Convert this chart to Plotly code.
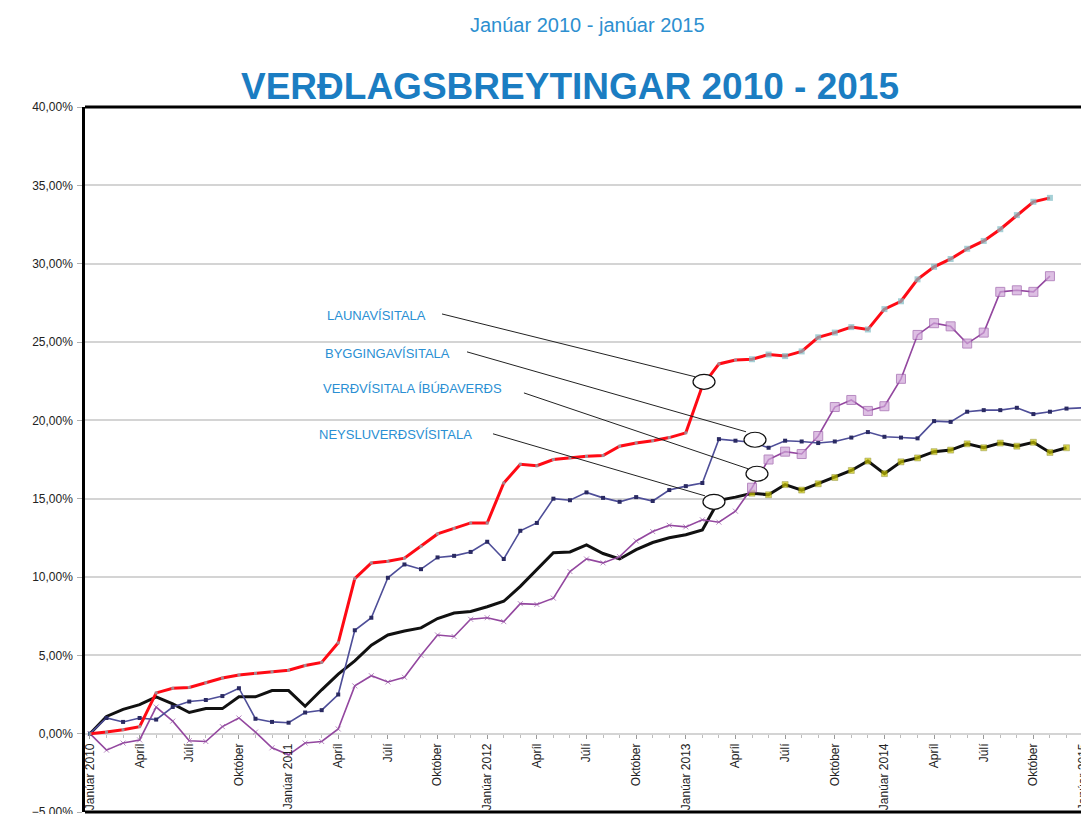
import plotly.graph_objects as go

# ---- data (percent change since January 2010) ----
months = list(range(61))  # 0 = Janúar 2010 ... 60 = Janúar 2015
tick_months = list(range(0, 61, 3))
tick_labels = ["Janúar 2010", "Apríl", "Júlí", "Október",
               "Janúar 2011", "Apríl", "Júlí", "Október",
               "Janúar 2012", "Apríl", "Júlí", "Október",
               "Janúar 2013", "Apríl", "Júlí", "Október",
               "Janúar 2014", "Apríl", "Júlí", "Október",
               "Janúar 2015"]

launavisitala = [0.0, 0.1, 0.25, 0.45, 2.6, 2.9, 2.95, 3.25, 3.55, 3.75,
                 3.85, 3.95, 4.05, 4.35, 4.55, 5.8, 9.9, 10.9, 11.0, 11.2,
                 11.95, 12.75, 13.1, 13.45, 13.45, 16.0, 17.2, 17.1, 17.5, 17.6,
                 17.7, 17.75, 18.35, 18.55, 18.7, 18.9, 19.2, 22.2, 23.6, 23.85,
                 23.9, 24.2, 24.1, 24.4, 25.3, 25.6, 25.95, 25.8, 27.1, 27.6,
                 29.0, 29.8, 30.3, 30.95, 31.45, 32.2, 33.1, 33.95, 34.2]

byggingavisitala = [0.0, 1.0, 0.75, 1.0, 0.9, 1.7, 2.05, 2.15, 2.4, 2.9,
                    0.95, 0.75, 0.7, 1.35, 1.5, 2.5, 6.6, 7.4, 9.95, 10.8,
                    10.5, 11.25, 11.35, 11.6, 12.25, 11.15, 12.95, 13.45, 15.0, 14.9,
                    15.4, 15.05, 14.8, 15.1, 14.85, 15.55, 15.8, 16.0, 18.8, 18.7,
                    18.6, 18.25, 18.7, 18.65, 18.55, 18.65, 18.9, 19.25, 18.95, 18.9,
                    18.85, 19.95, 19.9, 20.55, 20.65, 20.65, 20.8, 20.4, 20.55, 20.75,
                    20.8]

ibudaverd = [0.0, -1.05, -0.6, -0.4, 1.7, 0.8, -0.45, -0.5, 0.45, 1.0,
             0.1, -0.9, -1.35, -0.6, -0.5, 0.3, 3.05, 3.7, 3.3, 3.6,
             5.0, 6.3, 6.2, 7.3, 7.4, 7.15, 8.3, 8.25, 8.65, 10.35,
             11.15, 10.9, 11.3, 12.3, 12.9, 13.3, 13.2, 13.65, 13.5, 14.2,
             15.7, 17.5, 18.0, 17.85, 19.0, 20.85, 21.3, 20.6, 20.9, 22.65,
             25.45, 26.2, 26.0, 24.9, 25.6, 28.2, 28.3, 28.2, 29.2]

neysluverd = [0.0, 1.1, 1.55, 1.85, 2.35, 1.9, 1.35, 1.6, 1.6, 2.35,
              2.35, 2.75, 2.75, 1.75, 2.8, 3.8, 4.65, 5.65, 6.3, 6.55,
              6.75, 7.35, 7.7, 7.8, 8.1, 8.45, 9.4, 10.5, 11.55, 11.6,
              12.05, 11.5, 11.15, 11.75, 12.2, 12.5, 12.7, 13.0, 14.9, 15.1,
              15.35, 15.25, 15.9, 15.55, 15.95, 16.35, 16.8, 17.4, 16.6, 17.35,
              17.6, 18.0, 18.1, 18.5, 18.25, 18.55, 18.35, 18.6, 17.95, 18.25]

series_names = ["LAUNAVÍSITALA", "BYGGINGAVÍSITALA",
                "VERÐVÍSITALA ÍBÚÐAVERÐS", "NEYSLUVERÐSVÍSITALA"]

FONT = "Liberation Sans, Arial, sans-serif"
SPLIT = 40  # markers are more prominent in the later part of the source chart

# the page body has an 8px default margin; size the figure to fit the window
PAGE_MARGIN = 8
FIG_W, FIG_H = 1089 - PAGE_MARGIN, 814 - PAGE_MARGIN


def sizes(n, early, late):
    return [early if i < SPLIT else late for i in range(n)]


fig = go.Figure()

# Neysluverðsvísitala (black)
fig.add_trace(go.Scatter(
    x=months[:len(neysluverd)], y=neysluverd, name=series_names[3],
    mode="lines+markers",
    line=dict(color="#111111", width=3),
    marker=dict(symbol="square", size=sizes(len(neysluverd), 0, 6),
                color="#c8c400", line=dict(color="#6e6e10", width=0.5)),
))

# Verðvísitala íbúðaverðs (purple)
fig.add_trace(go.Scatter(
    x=months[:len(ibudaverd)], y=ibudaverd, name=series_names[2],
    mode="lines+markers",
    line=dict(color="#93479f", width=1.6),
    marker=dict(symbol=["x-thin" if i < SPLIT else "square" for i in range(len(ibudaverd))],
                size=sizes(len(ibudaverd), 5, 9),
                color="#cfa4d8", line=dict(color="#9a5aa8", width=1)),
))

# Byggingavísitala (slate blue)
fig.add_trace(go.Scatter(
    x=months[:len(byggingavisitala)], y=byggingavisitala, name=series_names[1],
    mode="lines+markers",
    line=dict(color="#4e4e98", width=1.6),
    marker=dict(symbol="square", size=4, color="#2a2a62"),
))

# Launavísitala (red)
fig.add_trace(go.Scatter(
    x=months[:len(launavisitala)], y=launavisitala, name=series_names[0],
    mode="lines+markers",
    line=dict(color="#ff0a14", width=3),
    marker=dict(symbol="square", size=sizes(len(launavisitala), 3, 6),
                color="#7fbcc4", line=dict(width=0)),
))

# ---- callouts: label text, leader line, ellipse ----
labels = [
    # text, text pos (x, y), line start, line end, ellipse centre
    (series_names[0], (14.2, 26.67), (21.27, 26.79), (36.56, 22.78), (37.1, 22.46)),
    (series_names[1], (14.08, 24.24), (22.78, 24.37), (39.64, 19.27), (40.18, 18.76)),
    (series_names[2], (13.96, 22.01), (26.22, 21.75), (39.76, 16.91), (40.3, 16.59)),
    (series_names[3], (13.72, 19.07), (24.35, 19.14), (37.16, 15.18), (37.7, 14.8)),
]
shapes = []
annotations = []
for text, tpos, l0, l1, c in labels:
    annotations.append(dict(x=tpos[0], y=tpos[1], xref="x", yref="y", text=text,
                            showarrow=False, xanchor="left", yanchor="middle",
                            font=dict(family=FONT, size=13, color="#2a8fd3")))
    shapes.append(dict(type="line", xref="x", yref="y", x0=l0[0], y0=l0[1],
                       x1=l1[0], y1=l1[1], line=dict(color="#222222", width=1)))
    shapes.append(dict(type="circle", xref="x", yref="y",
                       xsizemode="pixel", ysizemode="pixel",
                       xanchor=c[0], yanchor=c[1],
                       x0=-11, x1=11, y0=-7.5, y1=7.5,
                       fillcolor="white", line=dict(color="#111111", width=1.2)))

# frame lines at top and bottom of plot area
shapes.append(dict(type="line", xref="paper", yref="paper", x0=0, x1=1, y0=1, y1=1,
                   line=dict(color="black", width=3)))
shapes.append(dict(type="line", xref="paper", yref="paper", x0=0, x1=1, y0=0, y1=0,
                   line=dict(color="black", width=3)))

annotations.append(dict(text="Janúar 2010 - janúar 2015", xref="paper", yref="paper",
                        x=(587 - 85) / 1004, y=(812 - 25) / 705,
                        xanchor="center", yanchor="middle", showarrow=False,
                        font=dict(family=FONT, size=20, color="#2d8fd0")))
annotations.append(dict(text="<b>VERÐLAGSBREYTINGAR 2010 - 2015</b>", xref="paper", yref="paper",
                        x=(570 - 85) / 1004, y=(812 - 86) / 705,
                        xanchor="center", yanchor="middle", showarrow=False,
                        font=dict(family=FONT, size=37, color="#1b7dc2")))

fig.update_layout(
    width=FIG_W, height=FIG_H,
    margin=dict(l=85 - PAGE_MARGIN, r=0, t=107 - PAGE_MARGIN, b=2, autoexpand=False),
    paper_bgcolor="white", plot_bgcolor="white",
    separators=",.",
    showlegend=False,
    shapes=shapes,
    annotations=annotations,
    font=dict(family=FONT),
)

fig.update_xaxes(
    range=[-0.3, 60.36], anchor="free", position=5 / 45, automargin=False,
    tickmode="array", tickvals=tick_months, ticktext=tick_labels,
    tickangle=-90, ticks="outside", ticklen=4, tickcolor="#9a9a9a",
    ticklabeloverflow="allow",
    minor=dict(dtick=1, ticks="outside", ticklen=3, tickcolor="#bdbdbd"),
    showgrid=False, zeroline=False, showline=False,
    tickfont=dict(family=FONT, size=12, color="#222222"),
)
fig.update_yaxes(
    range=[-5, 40], dtick=5, tick0=0, automargin=False,
    tickformat=".2f", ticksuffix="%", ticklabeloverflow="allow",
    showgrid=True, gridcolor="#d4d4d4", gridwidth=2,
    zeroline=False, showline=True, linecolor="black", linewidth=2.5,
    ticks="outside", ticklen=5, tickcolor="#b0b0b0", ticklabelstandoff=2,
    tickfont=dict(family=FONT, size=12, color="#222222"),
)

fig.write_html("out.html")
